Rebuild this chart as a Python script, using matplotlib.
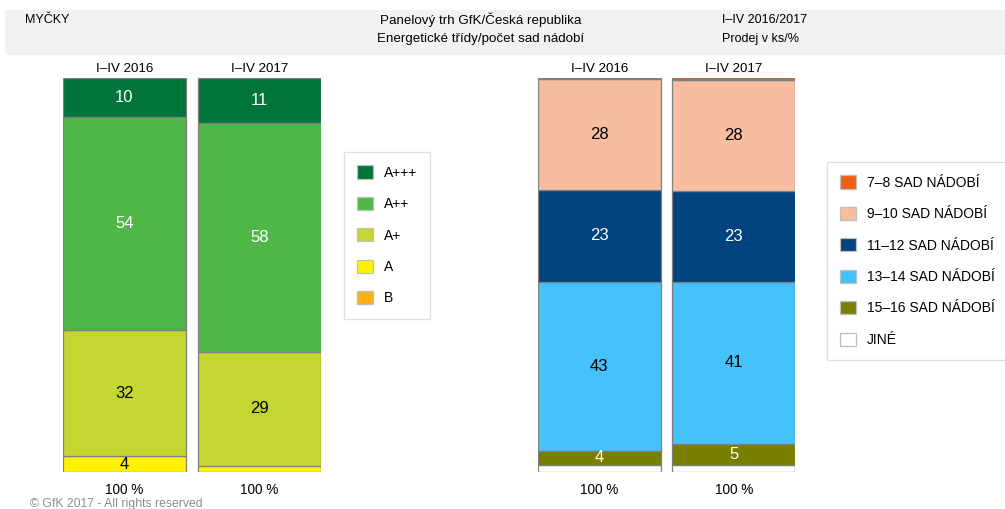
import matplotlib
matplotlib.use("Agg")
import matplotlib.pyplot as plt
from matplotlib.patches import Rectangle

plt.rcParams['font.family'] = ['Liberation Sans', 'DejaVu Sans']

# ---- data ----
periods = ["I–IV 2016", "I–IV 2017"]
totals = ["100 %", "100 %"]

energy_classes = ["A+++", "A++", "A+", "A", "B"]
energy_2016 = [10.0, 54.0, 32.0, 4.0, 0.0]
energy_2017 = [11.4, 58.1, 29.0, 1.5, 0.0]

sets_classes = ["7–8 SAD NÁDOBÍ", "9–10 SAD NÁDOBÍ", "11–12 SAD NÁDOBÍ",
                "13–14 SAD NÁDOBÍ", "15–16 SAD NÁDOBÍ", "JINÉ"]
sets_2016 = [0.3, 28.0, 23.4, 42.9, 3.6, 1.8]
sets_2017 = [0.5, 28.2, 23.0, 41.1, 5.4, 1.8]

# ---- styles ----
energy_colors = ["#00753a", "#4fb748", "#c3d631", "#fff200", "#fbb116"]
energy_text = ["white", "white", "black", "black", "black"]
sets_colors = ["#f06012", "#f7bda0", "#00437f", "#45c2fb", "#7b7f00", "#ffffff"]
sets_text = ["white", "black", "white", "black", "white", "black"]

W, H = 1005, 509
fig = plt.figure(figsize=(W / 100, H / 100), dpi=100)

# header band
fig.patches.append(Rectangle((5 / W, (H - 55) / H), 1, 45 / H, transform=fig.transFigure,
                             facecolor="#f2f2f2", edgecolor="none", zorder=0))
fig.text(25 / W, 1 - 20 / H, "MYČKY", fontsize=9, va="center", ha="left")
fig.text(481 / W, 1 - 20 / H, "Panelový trh GfK/Česká republika", fontsize=9.6, va="center", ha="center")
fig.text(481 / W, 1 - 39 / H, "Energetické třídy/počet sad nádobí", fontsize=9.6, va="center", ha="center")
fig.text(722 / W, 1 - 20 / H, "I–IV 2016/2017", fontsize=9, va="center", ha="left")
fig.text(722 / W, 1 - 39 / H, "Prodej v ks/%", fontsize=9, va="center", ha="left")
fig.text(30 / W, 1 - 504 / H, "© GfK 2017 - All rights reserved", fontsize=8.8, color="#8c8c8c",
         va="center", ha="left")


def stacked(ax, classes, v16, v17, colors, tcolors):
    x = [0, 1]
    width = 0.911
    bottoms = [0.0, 0.0]
    handles = []
    # stack from bottom: last class at bottom
    for i in range(len(classes) - 1, -1, -1):
        vals = [v16[i], v17[i]]
        bars = ax.bar(x, vals, width=width, bottom=bottoms, color=colors[i],
                      edgecolor="#7f7f7f", linewidth=0.9, label=classes[i])
        handles.append((i, bars))
        for j in range(2):
            if vals[j] >= 3:
                ax.text(x[j], bottoms[j] + vals[j] / 2, f"{round(vals[j]):d}",
                        ha="center", va="center", fontsize=12, color=tcolors[i])
        bottoms = [bottoms[k] + vals[k] for k in range(2)]
    handles.sort(key=lambda t: t[0])
    ax.set_xlim(-0.4555, 1.4555)
    ax.set_ylim(0, 100)
    for s in ax.spines.values():
        s.set_visible(False)
    ax.set_yticks([])
    ax.set_xticks(x)
    ax.set_xticklabels(totals, fontsize=9.8)
    ax.tick_params(axis="x", length=0, pad=8)
    top = ax.secondary_xaxis("top")
    top.set_xticks(x)
    top.set_xticklabels(periods, fontsize=9.6)
    top.tick_params(axis="x", length=0, pad=2)
    for s in top.spines.values():
        s.set_visible(False)
    return [h[1] for h in handles]


axL = fig.add_axes([63 / W, 37 / H, 258 / W, 394 / H])
hL = stacked(axL, energy_classes, energy_2016, energy_2017, energy_colors, energy_text)
axR = fig.add_axes([538 / W, 37 / H, 257 / W, 394 / H])
hR = stacked(axR, sets_classes, sets_2016, sets_2017, sets_colors, sets_text)

leg_kw = dict(fontsize=10, frameon=True, fancybox=False, handlelength=1.15, handleheight=1.1,
              handletextpad=0.75, labelspacing=1.23, borderpad=0.95, borderaxespad=0,
              loc="upper left")
legL = fig.legend(hL, energy_classes, bbox_to_anchor=(344 / W, 1 - 152 / H), **leg_kw)
legR = fig.legend(hR, sets_classes, bbox_to_anchor=(827 / W, 1 - 162 / H), **leg_kw)
for lg in (legL, legR):
    lg.get_frame().set_edgecolor("#d9d9d9")
    lg.get_frame().set_linewidth(1.0)
    for p in lg.get_patches():
        p.set_edgecolor("#bfbfbf")

fig.savefig("out.png", dpi=100)
